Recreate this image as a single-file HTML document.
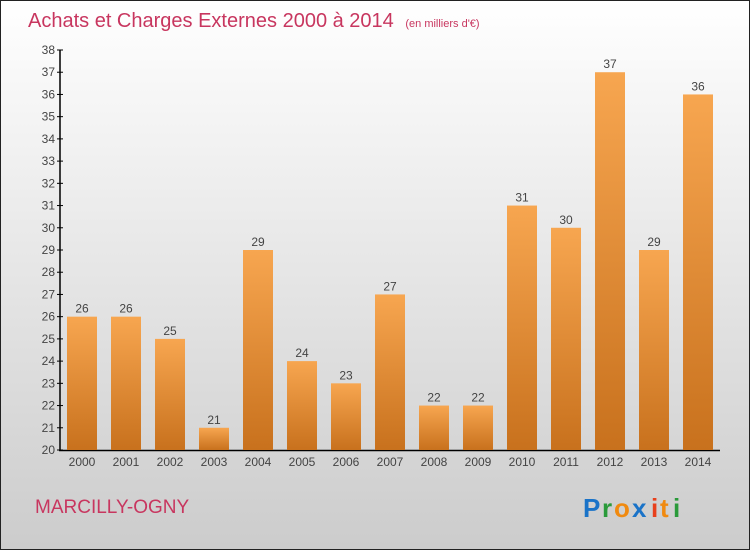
<!DOCTYPE html>
<html><head><meta charset="utf-8"><style>
body{margin:0;width:750px;height:550px;overflow:hidden;font-family:"Liberation Sans",sans-serif}
</style></head><body>
<svg width="750" height="550" xmlns="http://www.w3.org/2000/svg">
<defs>
<linearGradient id="bg" x1="0" y1="0" x2="0" y2="1"><stop offset="0" stop-color="#ffffff"/><stop offset="1" stop-color="#cccccc"/></linearGradient>
<linearGradient id="bar" x1="0" y1="0" x2="0" y2="1"><stop offset="0" stop-color="#f7a650"/><stop offset="1" stop-color="#c8711d"/></linearGradient>
</defs>
<rect x="0.5" y="0.5" width="749" height="549" fill="url(#bg)" stroke="#222"/>
<text x="28" y="27" font-size="20" fill="#c8365f">Achats et Charges Externes 2000 à 2014 <tspan font-size="11" dx="6">(en milliers d'€)</tspan></text>
<g id="axes"></g>
<g id="bars"></g>
<text x="35" y="513" font-size="19" fill="#c8365f">MARCILLY-OGNY</text>
<g font-size="26" font-family="'Liberation Sans',sans-serif" font-weight="bold">
<text x="583" y="517" fill="#1a73c8">P</text><text x="602" y="517" fill="#2a9a3a">r</text><text x="614" y="517" fill="#f08a10">o</text><text x="632" y="517" fill="#1a73c8">x</text><text x="651" y="517" fill="#e8401c">i</text><text x="660" y="517" fill="#f08a10">t</text><text x="673" y="517" fill="#2a9a3a">i</text>
</g>
</svg>
<script>
const years=["2000","2001","2002","2003","2004","2005","2006","2007","2008","2009","2010","2011","2012","2013","2014"];
const values=[26,26,25,21,29,24,23,27,22,22,31,30,37,29,36];
const yTicks=[20,21,22,23,24,25,26,27,28,29,30,31,32,33,34,35,36,37,38];
const NS="http://www.w3.org/2000/svg";
const y=v=>450-(v-20)*(400/18);
const x=i=>67+44*i;
function mk(t,a,p,txt){const e=document.createElementNS(NS,t);for(const k in a)e.setAttribute(k,a[k]);if(txt!==undefined)e.textContent=txt;p.appendChild(e);return e;}
const ax=document.getElementById('axes'),bs=document.getElementById('bars');
const yl=mk('line',{x1:60,y1:50,x2:60,y2:451,stroke:'#000','stroke-width':1.5},ax);


const xl=mk('line',{x1:59,y1:450.5,x2:720,y2:450.5,stroke:'#000','stroke-width':1.5},ax);


yTicks.forEach(v=>{
 mk('line',{x1:57,y1:y(v),x2:63,y2:y(v),stroke:'#000'},ax);
 const t=mk('text',{x:55,y:y(v)+4,'font-size':12,fill:'#444','text-anchor':'end'},ax,String(v));
 
 
});
values.forEach((v,i)=>{
 const r=mk('rect',{x:x(i),y:y(v),width:30,height:450-y(v),fill:'url(#bar)'},bs);
 
 
 const l=mk('text',{x:x(i)+15,y:y(v)-4,'font-size':12,fill:'#444','text-anchor':'middle'},bs,String(v));
 
 
 const xt=mk('text',{x:x(i)+15,y:466,'font-size':12,fill:'#444','text-anchor':'middle'},bs,years[i]);
 
 
});
</script>
</body></html>
